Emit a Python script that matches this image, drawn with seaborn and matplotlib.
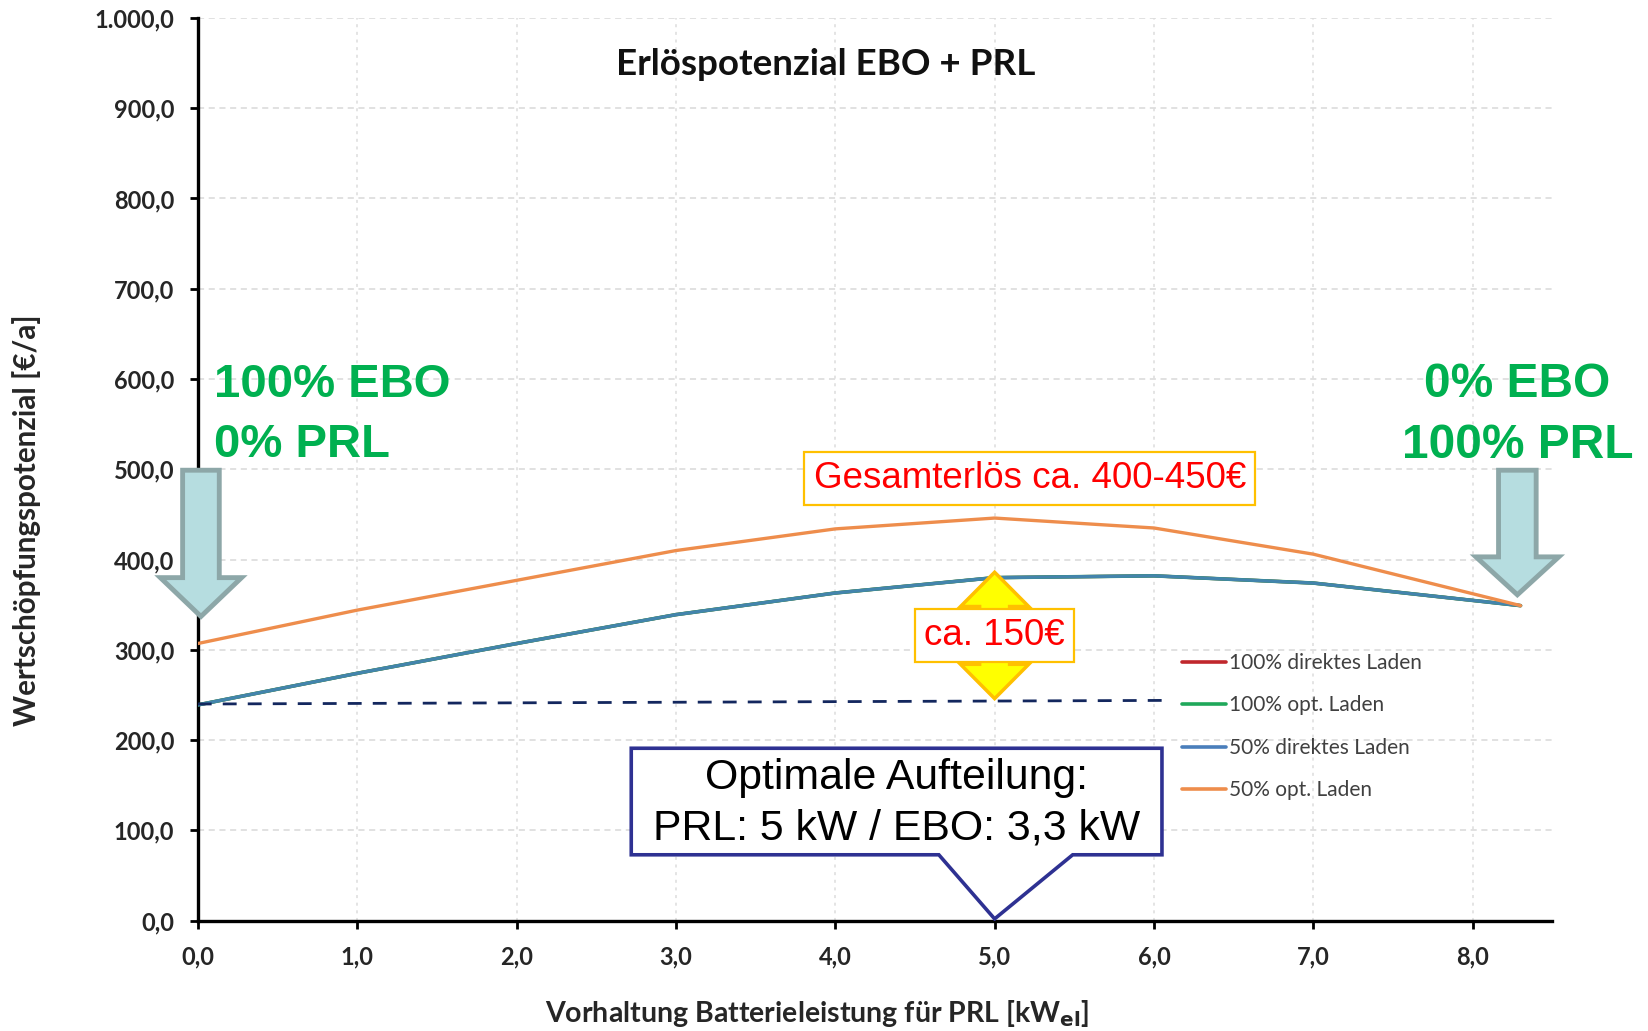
import numpy as np
import pandas as pd
import matplotlib
matplotlib.use("Agg")
import matplotlib.pyplot as plt
from matplotlib.patches import Polygon
from matplotlib.lines import Line2D
import seaborn as sns

# ---------------- data ----------------
x_kw = [0.0, 1.0, 2.0, 3.0, 4.0, 5.0, 6.0, 7.0, 8.3]
direkt_100 = [239, 274, 307, 339, 363, 380, 382, 374, 349]
opt_100 = [239, 274, 307, 339, 363, 380, 382, 374, 349]
direkt_50 = [239, 274, 307, 339, 363, 380, 382, 374, 349]
opt_50 = [307, 344, 377, 410, 434, 446, 435, 406, 349]
series_names = ["100% direktes Laden", "100% opt. Laden", "50% direktes Laden", "50% opt. Laden"]
series_colors = ["#C0272D", "#1FA85A", "#4A7EBB", "#EE8D4C"]
baseline_x = [0.0, 6.05]
baseline_y = [240, 244]
x_ticks = [0, 1, 2, 3, 4, 5, 6, 7, 8]
y_ticks = [0, 100, 200, 300, 400, 500, 600, 700, 800, 900, 1000]

def de_fmt(v):
    return f"{v:,.1f}".replace(",", "X").replace(".", ",").replace("X", ".")

rows = []
for name, vals in zip(series_names, [direkt_100, opt_100, direkt_50, opt_50]):
    for xv, yv in zip(x_kw, vals):
        rows.append({"x": xv, "y": yv, "Serie": name})
df = pd.DataFrame(rows)

sns.set_style("white")
plt.rcParams["font.family"] = ["Lato", "DejaVu Sans"]

fig = plt.figure(figsize=(16.48, 10.31), dpi=100)
ax = fig.add_axes([0.120, 0.107, 0.822, 0.8756])

ax.set_xlim(0, 8.5)
ax.set_ylim(0, 1000)

# grid
for yv in y_ticks[1:]:
    ax.axhline(yv, color="#D9D9D9", lw=1.1, ls=(0, (4, 3)), zorder=0)
for xv in x_ticks[1:]:
    ax.axvline(xv, color="#DDDDDD", lw=1.1, ls=(0, (2, 3)), zorder=0)

palette = dict(zip(series_names, series_colors))
for name, lw, z, a in [(series_names[0], 2.4, 2, 1.0), (series_names[1], 2.6, 3, 1.0),
                       (series_names[2], 2.4, 4, 0.85), (series_names[3], 2.4, 5, 1.0)]:
    sns.lineplot(data=df[df["Serie"] == name], x="x", y="y", color=palette[name],
                 lw=lw, ax=ax, zorder=z, alpha=a, legend=False)

ax.plot(baseline_x, baseline_y, color="#13275E", lw=2.0, ls=(0, (5, 4)), zorder=6)

# axes styling
for s in ["top", "right"]:
    ax.spines[s].set_visible(False)
for s in ["left", "bottom"]:
    ax.spines[s].set_color("black")
    ax.spines[s].set_linewidth(2.4)
ax.set_xticks(x_ticks)
ax.set_xticklabels([de_fmt(v) for v in x_ticks])
ax.set_yticks(y_ticks)
ax.set_yticklabels([de_fmt(v) for v in y_ticks])
ax.tick_params(axis="both", which="major", direction="out", length=6, width=2,
               color="black", labelsize=17, left=True, bottom=True)
ax.tick_params(axis="y", pad=11)
ax.tick_params(axis="x", pad=12)
for lab in ax.get_xticklabels() + ax.get_yticklabels():
    lab.set_fontweight("bold")
ax.set_xlabel("Vorhaltung Batterieleistung für PRL [kW$_{\\mathbf{el}}$]", fontsize=20.5,
              fontweight="bold")
ax.set_ylabel("Wertschöpfungspotenzial [€/a]", fontsize=21.3, fontweight="bold")
ax.xaxis.set_label_coords(0.457, -0.086)
ax.yaxis.set_label_coords(-0.116, 0.4435)

# title
ax.text(3.94, 948, "Erlöspotenzial EBO + PRL", ha="center", va="center",
        fontsize=26.5, fontweight="bold", color="#111111")

# green texts
arial = ["Liberation Sans", "DejaVu Sans"]
ax.text(0.10, 560, "100% EBO\n0% PRL", ha="left", va="center", fontsize=34,
        fontweight="bold", color="#00B050", family=arial, linespacing=1.45, clip_on=False)
ax.text(8.28, 560, "0% EBO\n100% PRL", ha="center", va="center", fontsize=34.5,
        fontweight="bold", color="#00B050", family=arial, linespacing=1.45,
        multialignment="center", clip_on=False)

# block arrows (down)
def down_arrow(xc, ytop, yshoulder, ytip, shaft_hw, head_hw):
    return [(xc - shaft_hw, ytop), (xc + shaft_hw, ytop), (xc + shaft_hw, yshoulder),
            (xc + head_hw, yshoulder), (xc, ytip), (xc - head_hw, yshoulder),
            (xc - shaft_hw, yshoulder)]

for pts in [down_arrow(0.02, 499, 380, 337, 0.115, 0.255),
            down_arrow(8.28, 499, 403, 361, 0.118, 0.26)]:
    ax.add_patch(Polygon(pts, closed=True, facecolor="#B6DDE0", edgecolor="#8DA7A8",
                         lw=3.5, zorder=8, clip_on=False, joinstyle="miter"))

# yellow double arrow
xc = 5.0
dbl = [(xc, 386), (xc + 0.214, 348), (xc + 0.094, 348), (xc + 0.094, 284),
       (xc + 0.214, 284), (xc, 246), (xc - 0.214, 284), (xc - 0.094, 284),
       (xc - 0.094, 348), (xc - 0.214, 348)]
ax.add_patch(Polygon(dbl, closed=True, facecolor="#FFFF00", edgecolor="#FFC000",
                     lw=2.5, zorder=8, joinstyle="miter"))

gold_box = dict(boxstyle="square,pad=0.25", facecolor="white", edgecolor="#FFC000", lw=1.6)
ax.text(5.0, 316, "ca. 150€", ha="center", va="center", fontsize=26.5, color="#FF0000",
        family=arial, bbox=gold_box, zorder=9)
ax.text(5.22, 490, "Gesamterlös ca. 400-450€", ha="center", va="center", fontsize=26.5,
        color="#FF0000", family=arial, bbox=gold_box, zorder=9)

# callout
callout = [(2.72, 191), (6.05, 191), (6.05, 73), (5.49, 73), (5.0, 2), (4.65, 73), (2.72, 73)]
ax.add_patch(Polygon(callout, closed=True, facecolor="white", edgecolor="#2E3192",
                     lw=2.6, zorder=9, joinstyle="miter"))
ax.text(4.385, 130, "Optimale Aufteilung:\nPRL: 5 kW / EBO: 3,3 kW", ha="center",
        va="center", fontsize=30.8, color="black", family=arial, linespacing=1.33, zorder=10)

# legend
handles = [Line2D([0], [0], color=c, lw=2.6) for c in series_colors]
leg = fig.legend(handles, series_names, loc="center left",
                 bbox_to_anchor=(0.717, 0.2953), frameon=False, fontsize=15,
                 handlelength=2.15, handletextpad=0.12, labelspacing=1.08,
                 borderpad=0, borderaxespad=0)
for t in leg.get_texts():
    t.set_color("#404040")

fig.savefig("out.png", dpi=100, facecolor="white")
